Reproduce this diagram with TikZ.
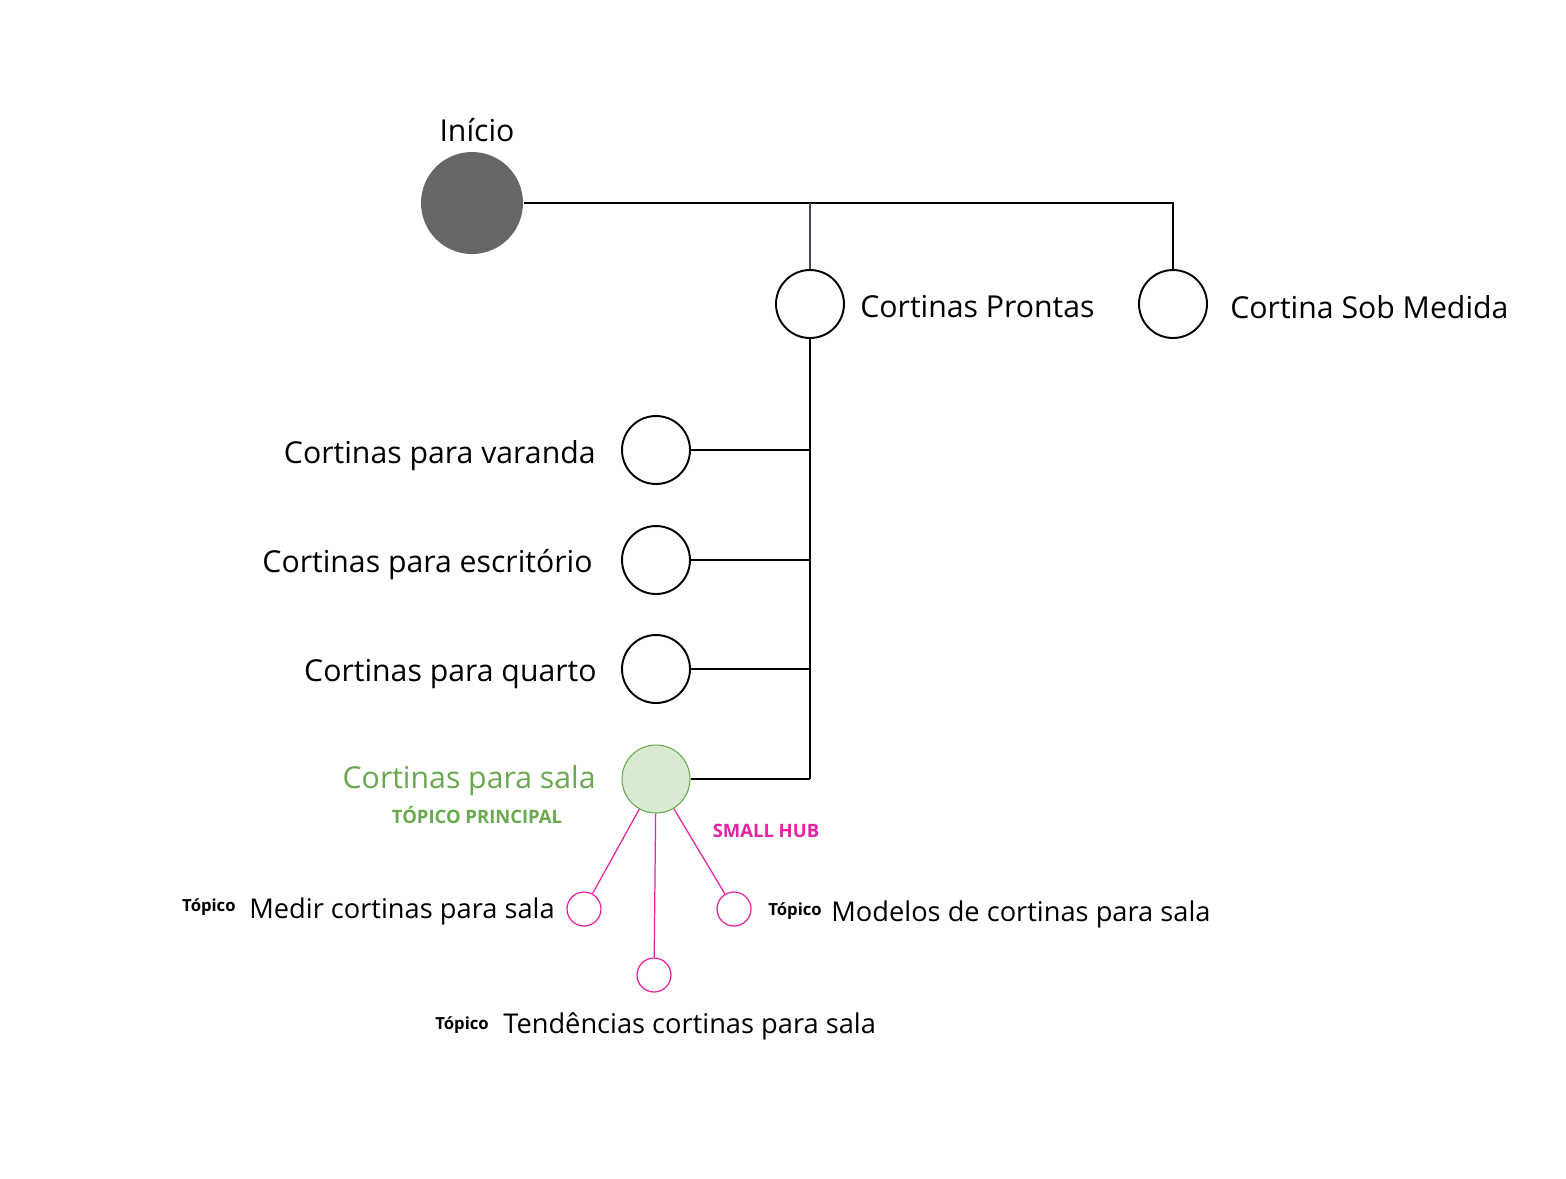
\documentclass[tikz,border=0pt]{standalone}
\usepackage{fontspec}
\setmainfont{Open Sans}
\usetikzlibrary{positioning}
\definecolor{startgray}{RGB}{102,102,102}
\definecolor{salagreen}{RGB}{106,168,79}
\definecolor{salafill}{RGB}{217,234,211}
\definecolor{hubpink}{RGB}{228,34,163}
\definecolor{branchnavy}{RGB}{60,72,96}
\tikzset{
  wire/.style={black,line width=0.6pt},
  trunk/.style={black,line width=0.9pt},
  spoke/.style={hubpink,line width=0.7pt},
  page/.style={circle,draw=black,line width=1.1pt,fill=white,minimum size=1.36cm,inner sep=0pt},
  home/.style={page,draw=none,fill=startgray,minimum size=2.04cm},
  mainpage/.style={page,draw=salagreen,line width=0.6pt,fill=salafill},
  subpage/.style={page,draw=hubpink,line width=0.7pt,minimum size=0.68cm},
  lab/.style={font=\fontsize{17.2}{20}\selectfont,inner sep=0pt},
  sublab/.style={font=\fontsize{15.5}{18}\selectfont,inner sep=0pt},
  tag/.style={font=\fontsize{9.5}{11}\selectfont\bfseries,inner sep=0pt},
  caps/.style={font=\fontsize{10.5}{12}\selectfont\bfseries,inner sep=0pt},
}
\begin{document}
\begin{tikzpicture}[x=0.02cm,y=-0.02cm]
  \path[use as bounding box] (0,0) rectangle (1566,1178);

  % top level
  \node[home] (inicio) at (472,203) {};
  \node[lab] (inicio-l) at (477,130) {Início};
  \node[page] (prontas) at (810,304) {};
  \node[lab,anchor=west] (prontas-l) at (860,307) {Cortinas Prontas};
  \node[page] (sob) at (1173,304) {};
  \node[lab,anchor=west] (sob-l) at (1230,307) {Cortina Sob Medida};

  % categories
  \node[page] (varanda) at (656,450) {};
  \node[lab,anchor=east] (varanda-l) at (596,456) {Cortinas para varanda};
  \node[page] (escritorio) at (656,560) {};
  \node[lab,anchor=east] (escritorio-l) at (593,565) {Cortinas para escritório};
  \node[page] (quarto) at (656,669) {};
  \node[lab,anchor=east] (quarto-l) at (597,674) {Cortinas para quarto};
  \node[mainpage] (sala) at (656,779) {};
  \node[lab,anchor=east,text=salagreen] (sala-l) at (596,781) {Cortinas para sala};
  \node[caps,text=salagreen] (principal) at (477,815) {TÓPICO PRINCIPAL};
  \node[caps,text=hubpink] (hub) at (766,831) {SMALL HUB};

  % small hub
  \node[subpage] (medir) at (584,909) {};
  \node[tag,anchor=east] (medir-t) at (236,907) {Tópico};
  \node[sublab,anchor=west] (medir-l) at (249,911) {Medir cortinas para sala};
  \node[subpage] (modelos) at (734,909) {};
  \node[tag,anchor=west] (modelos-t) at (768,911) {Tópico};
  \node[sublab,anchor=west] (modelos-l) at (831,914) {Modelos de cortinas para sala};
  \node[subpage] (tendencias) at (654,975) {};
  \node[tag,anchor=west] (tendencias-t) at (435,1025) {Tópico};
  \node[sublab,anchor=west] (tendencias-l) at (503,1026) {Tendências cortinas para sala};

  % connectors
  \draw[trunk] (inicio.east) -| (sob.north);
  \draw[trunk,branchnavy] (prontas.north) -- (prontas.north |- inicio.east);
  \draw[wire] (prontas.south) -- (prontas.south |- sala.east);
  \foreach \p in {varanda,escritorio,quarto,sala}
    \draw[wire] (\p.east) -- (\p.east -| prontas.south);
  \foreach \t in {medir,tendencias,modelos}
    \draw[spoke] (sala) -- (\t);
\end{tikzpicture}
\end{document}
